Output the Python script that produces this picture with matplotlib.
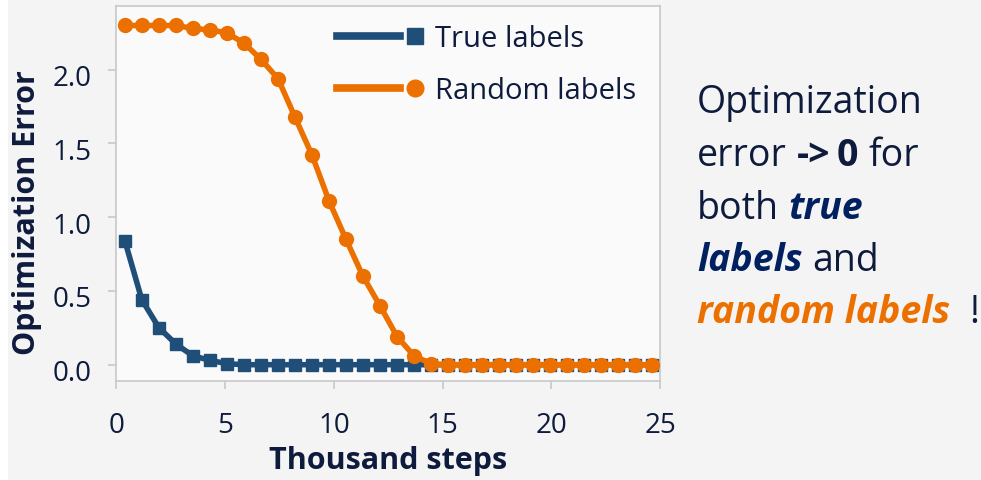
import matplotlib
matplotlib.use("Agg")
import matplotlib.pyplot as plt
import matplotlib.transforms as mtransforms
from matplotlib.lines import Line2D
from matplotlib.legend_handler import HandlerLine2D
from matplotlib.patches import Rectangle

# ---------------- data ----------------
steps = [0.39, 1.17, 1.96, 2.74, 3.52, 4.30, 5.08, 5.87, 6.65, 7.43, 8.21,
         9.00, 9.78, 10.56, 11.34, 12.12, 12.91, 13.69, 14.47, 15.25, 16.04,
         16.82, 17.60, 18.38, 19.16, 19.95, 20.73, 21.51, 22.29, 23.07,
         23.86, 24.64]
true_err = [0.84, 0.44, 0.25, 0.14, 0.06, 0.03, 0.007, 0.0, 0.0, 0.0, 0.0,
            0.0, 0.0, 0.0, 0.0, 0.0, 0.0, 0.0, 0.0, 0.0, 0.0, 0.0, 0.0, 0.0,
            0.0, 0.0, 0.0, 0.0, 0.0, 0.0, 0.0, 0.0]
random_err = [2.30, 2.30, 2.30, 2.30, 2.28, 2.27, 2.25, 2.18, 2.07, 1.94,
              1.68, 1.42, 1.11, 0.85, 0.60, 0.40, 0.19, 0.06, 0.007, 0.0,
              0.0, 0.0, 0.0, 0.0, 0.0, 0.0, 0.0, 0.0, 0.0, 0.0, 0.0, 0.0]
series_names = ["True labels", "Random labels"]
xticks = [0, 5, 10, 15, 20, 25]
yticks = [0.0, 0.5, 1.0, 1.5, 2.0]

BLUE = "#1F4E79"
ORANGE = "#EC7000"
NAVY_TXT = "#0E1B3D"
TRUE_TXT = "#002060"
BG = "#F4F4F4"

plt.rcParams['font.family'] = ['Open Sans', 'DejaVu Sans']

W, H = 981, 481
fig = plt.figure(figsize=(W / 100, H / 100), dpi=100, facecolor=BG)
fig.patches.append(Rectangle((0, 0), 8 / W, 1, transform=fig.transFigure,
                             facecolor="white", edgecolor="none", zorder=-1))

L, R, T, B = 116.4, 660, 7.3, 381.5
ax = fig.add_axes([L / W, 1 - B / H, (R - L) / W, (B - T) / H])
ax.set_facecolor("#FAFAFA")

ax.plot(steps, true_err, color=BLUE, lw=4.0, marker="s", ms=9,
        label=series_names[0], zorder=3, clip_on=False)
ax.plot(steps, random_err, color=ORANGE, lw=4.0, marker="o", ms=10,
        label=series_names[1], zorder=4, clip_on=False)

ax.set_xlim(0, 25)
ax.set_ylim(-0.107, 2.43)
ax.set_xticks(xticks)
ax.set_xticklabels([str(v) for v in xticks])
ax.set_yticks(yticks)
ax.set_yticklabels([f"{v:.1f}" for v in yticks])

for s in ax.spines.values():
    s.set_color("#C8C8C8")
    s.set_linewidth(1.2)
ax.tick_params(axis="both", colors="#C8C8C8", labelcolor=NAVY_TXT,
               labelsize=20, length=6, width=1.2)
ax.tick_params(axis="x", pad=16)
ax.tick_params(axis="y", pad=12)
shift = mtransforms.ScaledTranslation(0, -5 / 100, fig.dpi_scale_trans)
for lab in ax.get_yticklabels():
    lab.set_transform(lab.get_transform() + shift)

ax.set_xlabel("Thousand steps", fontsize=22, fontweight="bold",
              color=NAVY_TXT, labelpad=4)
ax.set_ylabel("Optimization Error", fontsize=22, fontweight="bold",
              color=NAVY_TXT)
ax.yaxis.set_label_coords(-0.137, 0.45)


class EndMarkerHandler(HandlerLine2D):
    def create_artists(self, legend, orig_handle, xdescent, ydescent,
                       width, height, fontsize, trans):
        y = height / 2 - ydescent
        line = Line2D([-xdescent, -xdescent + width * 0.72], [y, y])
        self.update_prop(line, orig_handle, legend)
        line.set_marker("None")
        line.set_linewidth(5.5)
        mk = Line2D([-xdescent + width - 7], [y])
        self.update_prop(mk, orig_handle, legend)
        mk.set_linestyle("None")
        mk.set_markersize(12)
        line.set_transform(trans)
        mk.set_transform(trans)
        return [line, mk]


leg = ax.legend(loc="upper left",
                bbox_to_anchor=((337 - L) / (R - L), 1 - (25 - T) / (B - T)),
                frameon=False, fontsize=21, handlelength=3.0,
                handletextpad=0.35, labelspacing=0.8, borderpad=0,
                borderaxespad=0,
                handler_map={Line2D: EndMarkerHandler()})
for t in leg.get_texts():
    t.set_color(NAVY_TXT)

# ---------------- right-hand annotation ----------------
FS = 27
x0 = 697 / W
baselines = [112.7, 166, 219.3, 271, 323.3]
lines = [
    [("Optimization", "normal", "normal", NAVY_TXT, 0)],
    [("error", "normal", "normal", NAVY_TXT, 0),
     ("->", "bold", "normal", NAVY_TXT, 7),
     ("0", "bold", "normal", NAVY_TXT, 5),
     ("for", "normal", "normal", NAVY_TXT, 7)],
    [("both", "normal", "normal", NAVY_TXT, 0),
     ("true", "bold", "italic", TRUE_TXT, 7)],
    [("labels", "bold", "italic", TRUE_TXT, 0),
     ("and", "normal", "normal", NAVY_TXT, 7)],
    [("random labels", "bold", "italic", ORANGE, 0),
     ("!", "normal", "normal", NAVY_TXT, 14)],
]
for bl, segs in zip(baselines, lines):
    prev = None
    for txt, wt, st, col, gap in segs:
        if prev is None:
            prev = fig.text(x0, 1 - bl / H, txt, fontsize=FS, fontweight=wt,
                            fontstyle=st, color=col, va="baseline", ha="left")
        else:
            prev = ax.annotate(txt, xy=(1, 0), xycoords=prev,
                               xytext=(gap, 0), textcoords="offset points",
                               fontsize=FS, fontweight=wt, fontstyle=st,
                               color=col, va="bottom", ha="left",
                               annotation_clip=False)

fig.savefig("out.png", dpi=100, facecolor=BG)
